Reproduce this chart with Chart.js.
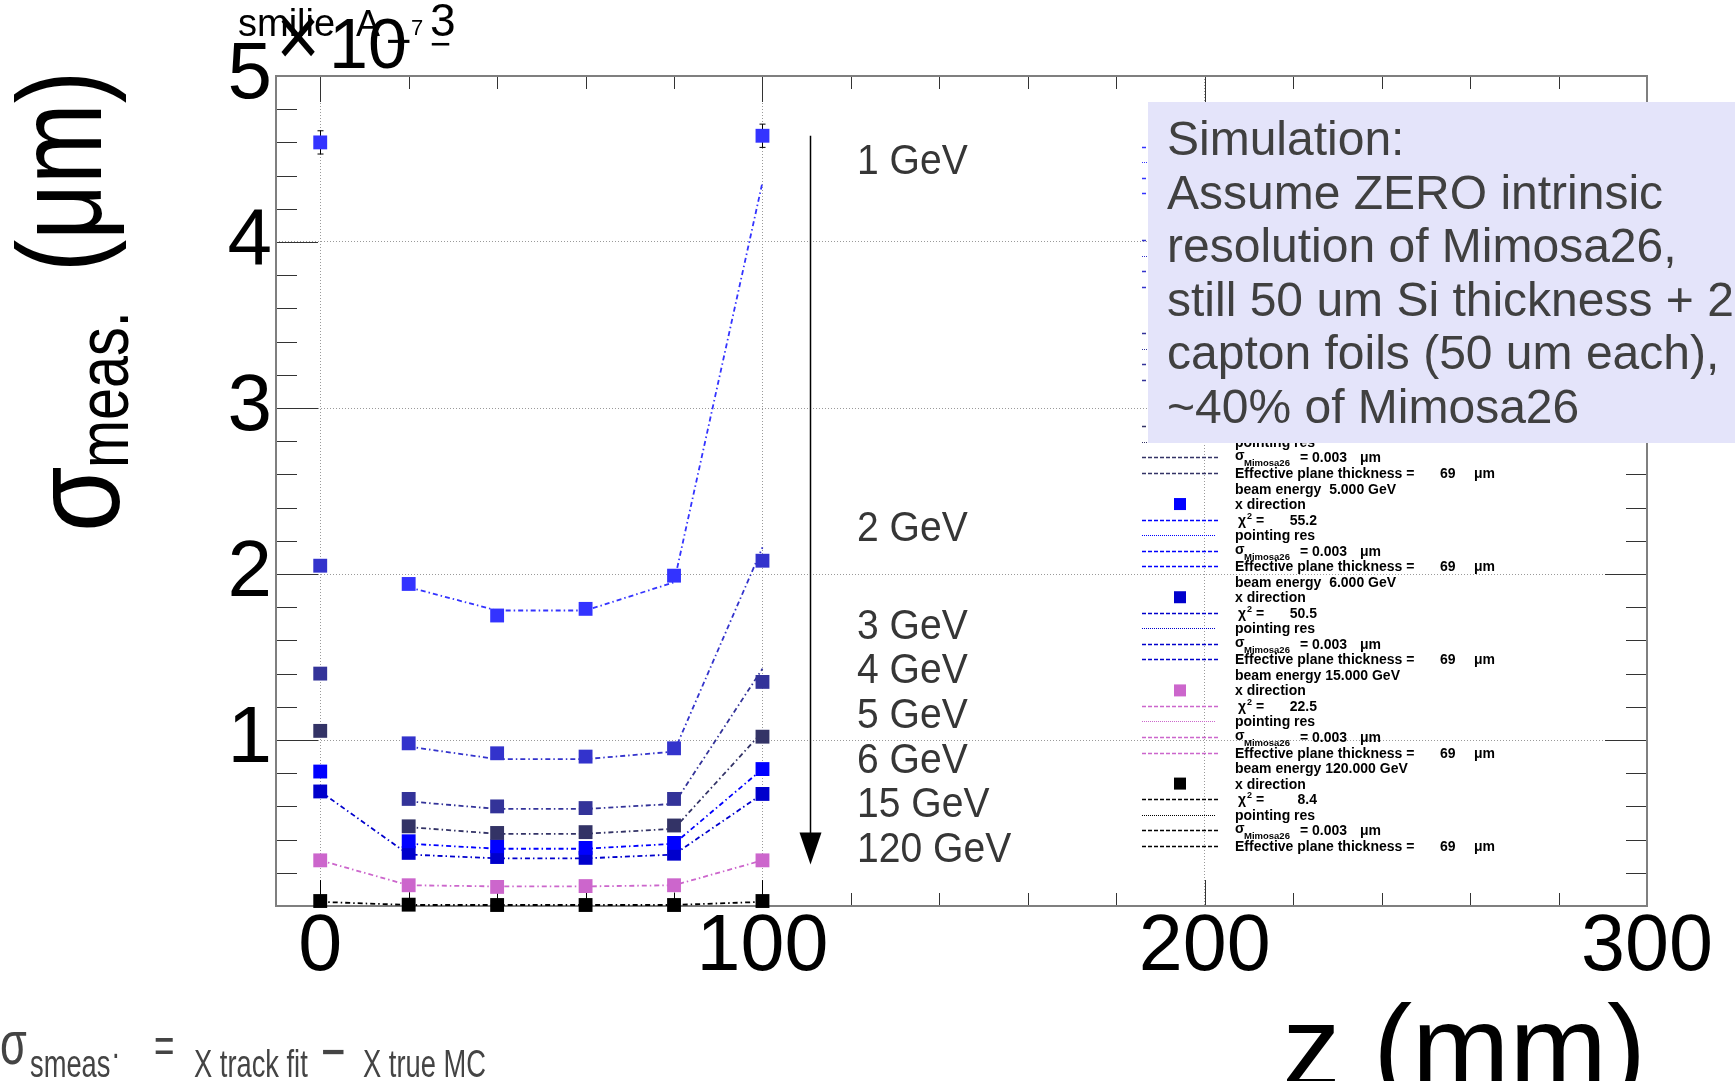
<!DOCTYPE html>
<html>
<head>
<meta charset="utf-8">
<script src="https://cdn.jsdelivr.net/npm/chart.js@4.4.1/dist/chart.umd.min.js"></script>
<style>
  html, body { margin: 0; padding: 0; background: #ffffff; }
  #wrap { width: 1735px; height: 1081px; position: relative; }
</style>
</head>
<body>
<div id="wrap"><canvas id="c" width="1735" height="1081"></canvas></div>
<script>
// Telescope plane positions along the beam (mm)
const zPositions = [0, 20, 40, 60, 80, 100];

// Beam energies and their labels
const energyLabels = ['1 GeV', '2 GeV', '3 GeV', '4 GeV', '5 GeV', '6 GeV', '15 GeV', '120 GeV'];
const beamEnergies = [1, 2, 3, 4, 5, 6, 15, 120];

// Measured resolution per plane (units of 10^-3 um)
const res1GeV   = [4.60, 1.94, 1.75, 1.79, 1.99, 4.64];
const res2GeV   = [2.05, 0.98, 0.92, 0.90, 0.95, 2.08];
const res3GeV   = [1.40, 0.645, 0.60, 0.59, 0.645, 1.35];
const res4GeV   = [1.055, 0.48, 0.44, 0.445, 0.485, 1.02];
const res5GeV   = [0.81, 0.39, 0.36, 0.35, 0.38, 0.825];
const res6GeV   = [0.69, 0.32, 0.295, 0.29, 0.315, 0.675];
const res15GeV  = [0.275, 0.125, 0.115, 0.12, 0.125, 0.275];
const res120GeV = [0.03, 0.008, 0.006, 0.006, 0.006, 0.03];

// Statistical errors on the measured points
const err1GeV   = [0.07, 0, 0, 0, 0, 0.07];
const err120GeV = [0.125, 0.075, 0.075, 0.075, 0.075, 0.125];

// Pointing-resolution curves (null = not drawn at that plane)
const pr1GeV   = [null, 1.92, 1.78, 1.78, 1.95, 4.36];
const pr2GeV   = [null, 0.96, 0.885, 0.885, 0.93, 2.16];
const pr3GeV   = [null, 0.63, 0.585, 0.585, 0.615, 1.43];
const pr4GeV   = [null, 0.475, 0.435, 0.435, 0.465, 1.05];
const pr5GeV   = [null, 0.375, 0.345, 0.345, 0.375, 0.825];
const pr6GeV   = [0.69, 0.31, 0.287, 0.287, 0.31, 0.675];
const pr15GeV  = [0.275, 0.125, 0.118, 0.118, 0.125, 0.275];
const pr120GeV = [0.025, 0.006, 0.006, 0.006, 0.006, 0.025];

// Fit quality per beam energy (null where not quoted)
const chi2Values = [null, null, null, null, 55.2, 50.5, 22.5, 8.4];
const sigmaMimosa = 0.003;
const planeThickness = 69;

// Axis ticks
const xTickValues = [0, 100, 200, 300];
const yTickValues = [1, 2, 3, 4, 5];

const measured = [res1GeV, res2GeV, res3GeV, res4GeV, res5GeV, res6GeV, res15GeV, res120GeV];
const pointing = [pr1GeV, pr2GeV, pr3GeV, pr4GeV, pr5GeV, pr6GeV, pr15GeV, pr120GeV];
const errors   = [err1GeV, null, null, null, null, null, null, err120GeV];

// Styling
const seriesColors = ['#3333ff', '#3333cc', '#333399', '#333366', '#0000ff', '#0000cc', '#cc66cc', '#000000'];
const SANS = '"Liberation Sans", Arial, Helvetica, sans-serif';

const datasets = [];
measured.forEach((vals, i) => {
  datasets.push({
    label: energyLabels[i],
    data: zPositions.map((z, k) => ({ x: z, y: vals[k] })),
    showLine: false,
    pointStyle: 'rect',
    pointRadius: 9.8,
    pointHoverRadius: 9.8,
    backgroundColor: seriesColors[i],
    borderColor: seriesColors[i],
    borderWidth: 0,
    clip: false,
    order: 0
  });
  datasets.push({
    label: energyLabels[i] + ' pointing res',
    data: zPositions.map((z, k) => ({ x: z, y: pointing[i][k] })),
    showLine: true,
    spanGaps: false,
    pointRadius: 0,
    pointHoverRadius: 0,
    borderColor: seriesColors[i],
    borderWidth: 1.8,
    borderDash: [5, 3, 1.5, 3],
    order: 1
  });
});

function line(ctx, x1, y1, x2, y2) {
  ctx.beginPath(); ctx.moveTo(x1, y1); ctx.lineTo(x2, y2); ctx.stroke();
}
function text(ctx, s, x, y, font, color, sx, align, baseline) {
  ctx.save();
  ctx.font = font; ctx.fillStyle = color;
  ctx.textAlign = align || 'left';
  ctx.textBaseline = baseline || 'alphabetic';
  ctx.translate(x, y);
  if (sx) ctx.scale(sx, 1);
  ctx.fillText(s, 0, 0);
  ctx.restore();
}

// Frame, inward tick marks and error bars (under the markers)
const framePlugin = {
  id: 'frame',
  beforeDatasetsDraw(chart) {
    const { ctx, chartArea: a, scales: { x, y } } = chart;
    ctx.save();
    ctx.strokeStyle = '#333333';
    ctx.lineWidth = 1;
    for (let k = 0; k <= 25; k++) {
      const v = k * 0.2;
      const py = Math.round(y.getPixelForValue(v)) + 0.5;
      const len = k % 5 === 0 ? 42 : 21;
      line(ctx, a.left, py, a.left + len, py);
      line(ctx, a.right, py, a.right - len, py);
    }
    for (let k = 0; k <= 15; k++) {
      const v = k * 20;
      const px = Math.round(x.getPixelForValue(v)) + 0.5;
      const len = k % 5 === 0 ? 26 : 13;
      line(ctx, px, a.bottom, px, a.bottom - len);
      line(ctx, px, a.top, px, a.top + len);
    }
    ctx.strokeStyle = '#7f7f7f';
    ctx.lineWidth = 2;
    ctx.strokeRect(a.left, a.top, a.right - a.left, a.bottom - a.top);

    // error bars
    ctx.beginPath(); ctx.rect(a.left, a.top, a.right - a.left, a.bottom - a.top); ctx.clip();
    ctx.strokeStyle = '#000000';
    ctx.lineWidth = 1;
    errors.forEach((err, i) => {
      if (!err) return;
      err.forEach((e, k) => {
        if (!e) return;
        const px = Math.round(x.getPixelForValue(zPositions[k])) + 0.5;
        const y1 = y.getPixelForValue(measured[i][k] - e);
        const y2 = y.getPixelForValue(measured[i][k] + e);
        line(ctx, px, y1, px, y2);
        if (i === 0) { line(ctx, px - 3, y1, px + 3, y1); line(ctx, px - 3, y2, px + 3, y2); }
      });
    });
    ctx.restore();
  }
};

// Legend, annotation box, energy labels, arrow and titles
const overlayPlugin = {
  id: 'overlay',
  afterDraw(chart) {
    const { ctx, scales: { x, y } } = chart;
    ctx.save();

    // energy arrow
    const ax = Math.round(x.getPixelForValue(110.7)) + 0.5;
    const aTop = y.getPixelForValue(4.64);
    const aTip = y.getPixelForValue(0.25);
    ctx.strokeStyle = '#000'; ctx.lineWidth = 1.5;
    line(ctx, ax, aTop, ax, aTip - 30);
    ctx.fillStyle = '#000';
    ctx.beginPath(); ctx.moveTo(ax - 11, aTip - 32); ctx.lineTo(ax + 11, aTip - 32); ctx.lineTo(ax, aTip); ctx.closePath(); ctx.fill();

    // energy labels
    const labelY = [162, 529, 627, 671, 716, 761, 805, 850];
    energyLabels.forEach((s, i) => {
      text(ctx, s, 857, labelY[i], '42px ' + SANS, '#363636', 0.93, 'left', 'middle');
    });

    // legend
    const L = { lineA: 1142, lineB: 1219, mark: 1180, txt: 1235, top: 115.8, row: 15.53 };
    const bold = 'bold 14px ' + SANS;
    beamEnergies.forEach((e, i) => {
      const col = seriesColors[i];
      const base = i * 6;
      const cy = r => L.top + (base + r) * L.row;
      const fmt = e.toFixed(3);
      const pad = fmt.length < 6 ? ' ' : '';
      text(ctx, 'beam energy ' + pad + fmt + ' GeV', L.txt, cy(0) + 5, bold, '#000');
      // marker
      ctx.fillStyle = col;
      ctx.fillRect(L.mark - 6, cy(1) - 6, 12, 12);
      text(ctx, 'x direction', L.txt, cy(1) + 5, bold, '#000');
      // dashed / dotted symbols
      ctx.strokeStyle = col;
      [2, 4, 5].forEach(r => {
        ctx.lineWidth = 1.5; ctx.setLineDash([4, 2]);
        line(ctx, L.lineA, Math.round(cy(r)) + 0.5, L.lineB, Math.round(cy(r)) + 0.5);
      });
      ctx.lineWidth = 1; ctx.setLineDash([1, 1]);
      line(ctx, L.lineA, Math.round(cy(3)) + 0.5, L.lineB - 3, Math.round(cy(3)) + 0.5);
      ctx.setLineDash([]);
      // chi2
      if (chi2Values[i] !== null) {
        text(ctx, '\u03C7', L.txt + 3, cy(2) + 5, bold, '#000');
        text(ctx, '2', L.txt + 12, cy(2) - 1, 'bold 9px ' + SANS, '#000');
        text(ctx, '=', L.txt + 21, cy(2) + 5, bold, '#000');
        text(ctx, chi2Values[i].toFixed(1), 1317, cy(2) + 5, bold, '#000', null, 'right');
      }
      text(ctx, 'pointing res', L.txt, cy(3) + 5, bold, '#000');
      text(ctx, '\u03C3', L.txt, cy(4) + 3, bold, '#000');
      text(ctx, 'Mimosa26', L.txt + 9, cy(4) + 9, 'bold 9.5px ' + SANS, '#000');
      text(ctx, '= ' + sigmaMimosa.toFixed(3), 1300, cy(4) + 5, bold, '#000');
      text(ctx, '\u03BCm', 1360, cy(4) + 5, bold, '#000');
      text(ctx, 'Effective plane thickness =', L.txt, cy(5) + 5, bold, '#000');
      text(ctx, String(planeThickness), 1440, cy(5) + 5, bold, '#000');
      text(ctx, '\u03BCm', 1474, cy(5) + 5, bold, '#000');
    });

    // annotation box
    ctx.fillStyle = '#e4e4fa';
    ctx.fillRect(1148, 102, 1735 - 1148, 341);
    const note = ['Simulation:', 'Assume ZERO intrinsic', 'resolution of Mimosa26,',
                  'still 50 um Si thickness + 2', 'capton foils (50 um each),', '~40% of Mimosa26'];
    note.forEach((s, k) => text(ctx, s, 1167, 155 + k * 53.6, '48px ' + SANS, '#404040'));

    // y-axis title
    const vt = (s, px, py, font, sx) => {
      ctx.save(); ctx.translate(px, py); ctx.rotate(-Math.PI / 2); ctx.scale(sx, 1);
      ctx.font = font; ctx.fillStyle = '#000'; ctx.textBaseline = 'alphabetic'; ctx.textAlign = 'left';
      ctx.fillText(s, 0, 0); ctx.restore();
    };
    vt('\u03C3', 119, 532, '125px ' + SANS, 0.85);
    vt('meas.', 128, 468, '72px ' + SANS, 0.8);
    vt('(\u03BCm)', 101, 272, '121px ' + SANS, 0.8);

    // x-axis title
    text(ctx, 'z (mm)', 1646, 1087, '117px ' + SANS, '#000', null, 'right');

    // exponent label and title
    text(ctx, 'smilie', 238, 36, '38px ' + SANS, '#000');
    text(ctx, 'A', 356, 36, '36px ' + SANS, '#000');
    text(ctx, '\u00D7', 298, 66, '88px ' + SANS, '#000', 0.85, 'center');
    text(ctx, '10', 329, 68, '70px ' + SANS, '#000');
    text(ctx, '\u2212', 386, 56, '44px ' + SANS, '#000');
    text(ctx, '7', 411, 35, '22px ' + SANS, '#000');
    text(ctx, '3', 430, 36, '46px ' + SANS, '#000');
    text(ctx, '\u2212', 430, 56, '36px ' + SANS, '#000');

    // resolution definition
    const g = '#444444';
    text(ctx, '\u03C3', 0, 1064, '62px ' + SANS, g, 0.7);
    text(ctx, 'smeas', 30, 1077, '39px ' + SANS, g, 0.7);
    text(ctx, '.', 112, 1058, '39px ' + SANS, g, 0.7);
    text(ctx, '=', 154, 1062, '50px ' + SANS, g, 0.7);
    text(ctx, 'X track fit', 194, 1077, '39px ' + SANS, g, 0.7);
    text(ctx, '\u2212', 321, 1072, '60px ' + SANS, g, 0.7);
    text(ctx, 'X true MC', 363, 1077, '39px ' + SANS, g, 0.7);

    ctx.restore();
  }
};

const gridColor = () => '#9a9a9a';

new Chart(document.getElementById('c'), {
  type: 'scatter',
  data: { datasets },
  options: {
    responsive: false,
    animation: false,
    devicePixelRatio: 1,
    layout: { padding: { left: 0, top: 76, right: 88, bottom: 0 } },
    plugins: { legend: { display: false }, tooltip: { enabled: false } },
    scales: {
      x: {
        type: 'linear', min: -10, max: 300,
        afterBuildTicks: s => { s.ticks = xTickValues.map(v => ({ value: v })); },
        afterFit: s => { s.height = 175; },
        ticks: {
          autoSkip: false, maxRotation: 0, padding: 3, color: '#000',
          font: { family: SANS, size: 79, lineHeight: 1 },
          callback: v => String(v)
        },
        grid: { color: gridColor, lineWidth: 1, drawTicks: false },
        border: { display: false, dash: [1, 2] }
      },
      y: {
        type: 'linear', min: 0, max: 5,
        afterBuildTicks: s => { s.ticks = yTickValues.map(v => ({ value: v })); },
        afterFit: s => { s.width = 276; },
        ticks: {
          autoSkip: false, padding: 4, color: '#000',
          font: { family: SANS, size: 80, lineHeight: 1 },
          callback: v => String(v)
        },
        grid: { color: gridColor, lineWidth: 1, drawTicks: false },
        border: { display: false, dash: [1, 2] }
      }
    }
  },
  plugins: [framePlugin, overlayPlugin]
});
</script>
</body>
</html>
